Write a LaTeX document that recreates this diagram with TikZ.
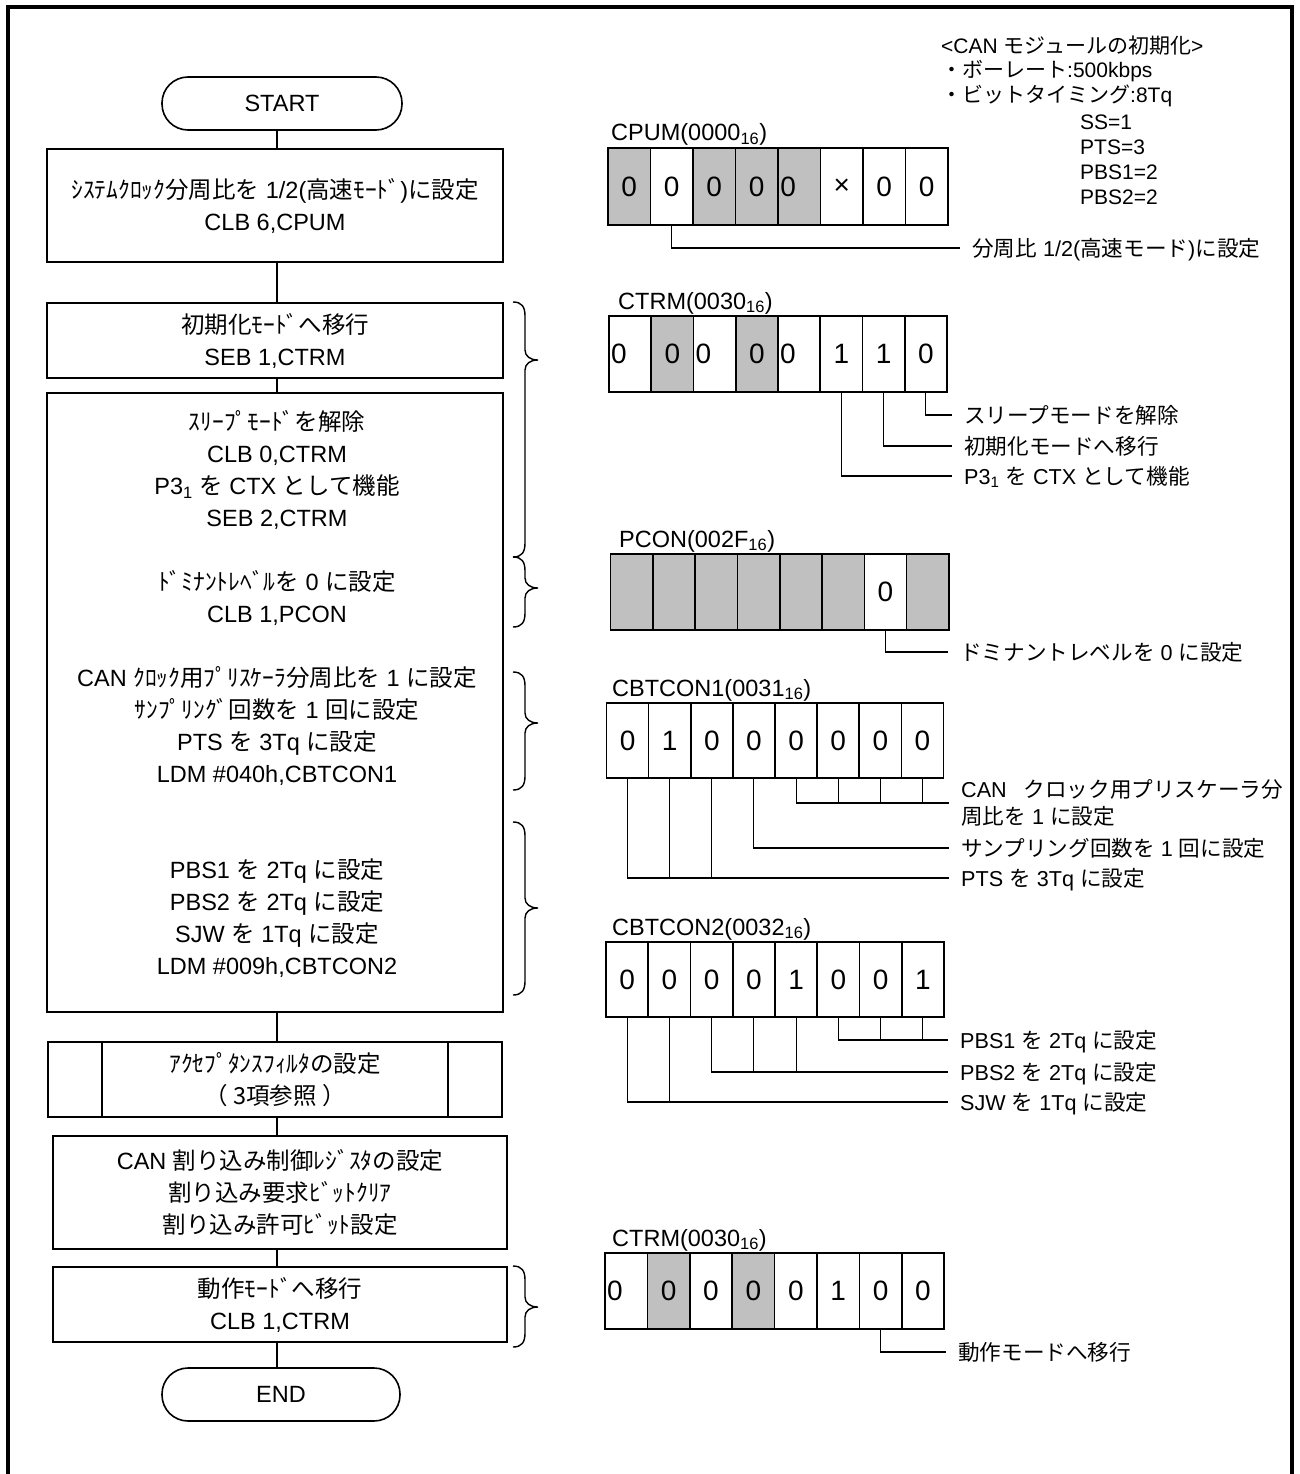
\documentclass[tikz,border=0pt]{standalone}
\usepackage{fontspec}
\setmainfont{Liberation Sans}
\newfontfamily\cjk{Noto Sans CJK JP}
\newcommand{\JA}[1]{{\cjk #1}}
\definecolor{shade}{HTML}{C0C0C0}
\newcommand{\mybrc}[3]{%
  \draw[brc] (513,#1) .. controls (522,#1) and (525,#1+5) .. (525,#1+14)
    -- (525,#2-10) .. controls (525,#2-4) and (530,#2) .. (538,#2)
    .. controls (530,#2) and (525,#2+4) .. (525,#2+10)
    -- (525,#3-14) .. controls (525,#3-5) and (522,#3) .. (513,#3);}
\begin{document}
\begin{tikzpicture}[x=1pt,y=-1pt,
  fl/.style={draw, line width=1.6pt, align=center, inner sep=0pt, font=\fontsize{23.5}{32}\selectfont},
  term/.style={fl, rounded corners=26pt, minimum width=240pt, minimum height=53pt},
  conn/.style={line width=1.6pt},
  cell/.style={draw, line width=1.6pt, inner sep=0pt, minimum height=76pt, font=\fontsize{28}{30}\selectfont},
  lcell/.style={cell, text width=38pt, align=left},
  rtitle/.style={anchor=base west, inner sep=0pt, font=\fontsize{23.5}{28}\selectfont},
  lab/.style={anchor=west, inner xsep=12pt, inner ysep=0pt, text height=19pt, text depth=3pt, font=\fontsize{21.6}{26}\selectfont},
  labm/.style={anchor=west, inner xsep=12pt, inner ysep=0pt, align=left, font=\fontsize{21.6}{27}\selectfont},
  lead/.style={line width=1.1pt},
  brc/.style={line width=1.4pt},
  note/.style={anchor=west, inner sep=0pt, font=\fontsize{21}{24}\selectfont}]
\useasboundingbox (0,0) rectangle (1300,1474);
\fill[white] (0,0) rectangle (1300,1474);
% outer frame
\draw[line width=4pt] (7.5,1480) -- (7.5,7) -- (1292,7) -- (1292,1480);

% ---------------- flowchart ----------------
\coordinate (cx) at (277,0);
\node[term] (start) at (282,103.5) {START};
\node[fl, minimum width=456pt, minimum height=113pt] (b1) at (275,205.5)
  {\JA{ｼｽﾃﾑｸﾛｯｸ分周比を} 1/2(\JA{高速ﾓｰﾄﾞ})\JA{に設定}\\CLB 6,CPUM};
\node[fl, minimum width=456pt, minimum height=75pt] (b2) at (275,340.5)
  {\JA{初期化ﾓｰﾄﾞへ移行}\\SEB 1,CTRM};
\node[fl, minimum width=456pt, minimum height=619pt] (b3) at (275,702.5) {};
\node[align=center, inner sep=0pt, font=\fontsize{23.5}{32}\selectfont] (b3t) at (277,694)
  {\JA{ｽﾘｰﾌﾟﾓｰﾄﾞを解除}\\
   CLB 0,CTRM\\
   P3\textsubscript{1} \JA{を} CTX \JA{として機能}\\
   SEB 2,CTRM\\[32pt]
   \JA{ﾄﾞﾐﾅﾝﾄﾚﾍﾞﾙを} 0 \JA{に設定}\\
   CLB 1,PCON\\[32pt]
   CAN \JA{ｸﾛｯｸ用ﾌﾟﾘｽｹｰﾗ分周比を} 1 \JA{に設定}\\
   \JA{ｻﾝﾌﾟﾘﾝｸﾞ回数を} 1 \JA{回に設定}\\
   PTS \JA{を} 3Tq \JA{に設定}\\
   LDM \#040h,CBTCON1\\[64pt]
   PBS1 \JA{を} 2Tq \JA{に設定}\\
   PBS2 \JA{を} 2Tq \JA{に設定}\\
   SJW \JA{を} 1Tq \JA{に設定}\\
   LDM \#009h,CBTCON2};
\node[fl, minimum width=454pt, minimum height=75pt] (b4) at (275,1079.5)
  {\JA{ｱｸｾﾌﾟﾀﾝｽﾌｨﾙﾀの設定}\\\JA{（ 3項参照 ）}};
\draw[conn] ([xshift=55pt]b4.north west) -- ([xshift=55pt]b4.south west);
\draw[conn] ([xshift=-55pt]b4.north east) -- ([xshift=-55pt]b4.south east);
\node[fl, minimum width=454pt, minimum height=113pt] (b5) at (280,1192.5)
  {CAN \JA{割り込み制御ﾚｼﾞｽﾀの設定}\\\JA{割り込み要求ﾋﾞｯﾄｸﾘｱ}\\\JA{割り込み許可ﾋﾞｯﾄ設定}};
\node[fl, minimum width=454pt, minimum height=75pt] (b6) at (280,1304.5)
  {\JA{動作ﾓｰﾄﾞへ移行}\\CLB 1,CTRM};
\node[term, minimum width=238pt] (end) at (281,1394.5) {END};

\draw[conn] (start.south -| cx) -- (b1.north -| cx);
\draw[conn] (b1.south -| cx) -- (b2.north -| cx);
\draw[conn] (b2.south -| cx) -- (b3.north -| cx);
\draw[conn] (b3.south -| cx) -- (b4.north -| cx);
\draw[conn] (b4.south -| cx) -- (b5.north -| cx);
\draw[conn] (b5.south -| cx) -- (b6.north -| cx);
\draw[conn] (b6.south -| cx) -- (end.north -| cx);

% braces
\mybrc{302}{360}{557}
\mybrc{557}{588}{627}
\mybrc{672}{723}{790}
\mybrc{822}{908}{995}
\mybrc{1266}{1307}{1347}

% ---------------- note ----------------
\node[note] (n1) at (941,46) {<CAN \JA{モジュールの初期化}>};
\node[note] (n2) at (941,71) {\JA{・ボーレート}:500kbps};
\node[note] (n3) at (941,96) {\JA{・ビットタイミング}:8Tq};
\node[note] (n4) at (1080,122) {SS=1};
\node[note] (n5) at (1080,147) {PTS=3};
\node[note] (n6) at (1080,172) {PBS1=2};
\node[note] (n7) at (1080,197) {PBS2=2};

% ---------------- CPUM ----------------
\node[rtitle] (tcpum) at (611,141) {CPUM(0000\textsubscript{16})};
\foreach \i/\v/\c/\s in {0/0/shade/cell,1/0/white/cell,2/0/shade/cell,3/0/shade/cell,4/0/shade/lcell,5/×/white/cell,6/0/white/cell,7/0/white/cell}
  \node[\s, fill=\c, minimum width=42.5pt, minimum height=77pt] (cpum\i) at ({608+42.5*\i+21.25},186.5) {\v};
\node[lab] (lcpum) at (960,248) {\JA{分周比} 1/2(\JA{高速モード})\JA{に設定}};
\draw[lead] (cpum1.south) |- (lcpum.west);

% ---------------- CTRM (1) ----------------
\node[rtitle] (tctrm) at (618,309) {CTRM(0030\textsubscript{16})};
\foreach \i/\v/\c/\s in {0/0/white/lcell,1/0/shade/cell,2/0/white/lcell,3/0/shade/cell,4/0/white/lcell,5/1/white/cell,6/1/white/cell,7/0/white/cell}
  \node[\s, fill=\c, minimum width=42.25pt] (ctA\i) at ({609+42.25*\i+21.125},354) {\v};
\node[lab] (lct1) at (952,415) {\JA{スリープモードを解除}};
\node[lab] (lct2) at (952,446) {\JA{初期化モードへ移行}};
\node[lab] (lct3) at (952,476) {P3\textsubscript{1} \JA{を} CTX \JA{として機能}};
\draw[lead] (ctA7.south) |- (lct1.west);
\draw[lead] (ctA6.south) |- (lct2.west);
\draw[lead] (ctA5.south) |- (lct3.west);

% ---------------- PCON ----------------
\node[rtitle] (tpcon) at (619,547) {PCON(002F\textsubscript{16})};
\foreach \i/\v/\c in {0/{}/shade,1/{}/shade,2/{}/shade,3/{}/shade,4/{}/shade,5/{}/shade,6/0/white,7/{}/shade}
  \node[cell, fill=\c, minimum width=42.3pt] (pc\i) at ({610.5+42.3*\i+21.15},592) {\v};
\node[lab] (lpc) at (948,652) {\JA{ドミナントレベルを} 0 \JA{に設定}};
\draw[lead] (pc6.south) |- (lpc.west);

% ---------------- CBTCON1 ----------------
\node[rtitle] (tcb1) at (612,696) {CBTCON1(0031\textsubscript{16})};
\foreach \i/\v in {0/0,1/1,2/0,3/0,4/0,5/0,6/0,7/0}
  \node[cell, fill=white, minimum width=42.125pt, minimum height=75pt] (cbA\i) at ({606.5+42.125*\i+21.06},740.5) {\v};
\node[labm] (lcan) at (949,803) {CAN\hspace{0.5em} \JA{クロック用プリスケーラ分}\\\JA{周比を} 1 \JA{に設定}};
\node[lab] (lsmp) at (949,848) {\JA{サンプリング回数を} 1 \JA{回に設定}};
\node[lab] (lpts) at (949,878) {PTS \JA{を} 3Tq \JA{に設定}};
\draw[lead] (cbA4.south) |- (lcan.west);
\foreach \k in {5,6,7} \draw[lead] (cbA\k.south) -- (cbA\k.south |- lcan.west);
\draw[lead] (cbA3.south) |- (lsmp.west);
\draw[lead] (cbA0.south) |- (lpts.west);
\foreach \k in {1,2} \draw[lead] (cbA\k.south) -- (cbA\k.south |- lpts.west);

% ---------------- CBTCON2 ----------------
\node[rtitle] (tcb2) at (612,935) {CBTCON2(0032\textsubscript{16})};
\foreach \i/\v in {0/0,1/0,2/0,3/0,4/1,5/0,6/0,7/1}
  \node[cell, fill=white, minimum width=42.25pt, minimum height=75pt] (cbB\i) at ({606+42.25*\i+21.125},979.5) {\v};
\node[lab] (lpb1) at (948,1040) {PBS1 \JA{を} 2Tq \JA{に設定}};
\node[lab] (lpb2) at (948,1072) {PBS2 \JA{を} 2Tq \JA{に設定}};
\node[lab] (lsjw) at (948,1102) {SJW \JA{を} 1Tq \JA{に設定}};
\draw[lead] (cbB5.south) |- (lpb1.west);
\foreach \k in {6,7} \draw[lead] (cbB\k.south) -- (cbB\k.south |- lpb1.west);
\draw[lead] (cbB2.south) |- (lpb2.west);
\foreach \k in {3,4} \draw[lead] (cbB\k.south) -- (cbB\k.south |- lpb2.west);
\draw[lead] (cbB0.south) |- (lsjw.west);
\draw[lead] (cbB1.south) -- (cbB1.south |- lsjw.west);

% ---------------- CTRM (2) ----------------
\node[rtitle] (tctrm2) at (612,1246) {CTRM(0030\textsubscript{16})};
\foreach \i/\v/\c/\s in {0/0/white/lcell,1/0/shade/cell,2/0/white/cell,3/0/shade/cell,4/0/white/cell,5/1/white/cell,6/0/white/cell,7/0/white/cell}
  \node[\s, fill=\c, minimum width=42.4pt] (ctB\i) at ({605+42.4*\i+21.2},1291) {\v};
\node[lab] (lop) at (946,1352) {\JA{動作モードへ移行}};
\draw[lead] (ctB6.south) |- (lop.west);
\end{tikzpicture}
\end{document}
